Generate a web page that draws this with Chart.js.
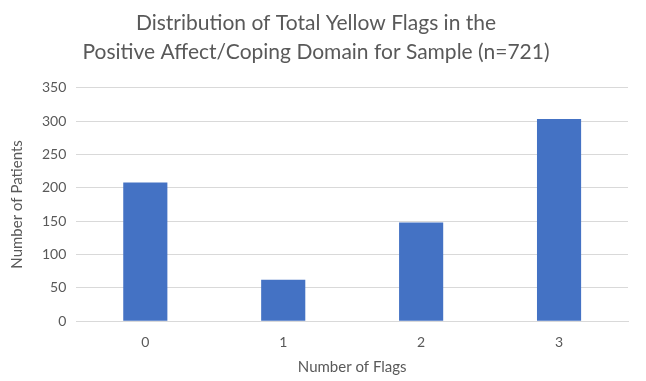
<!DOCTYPE html>
<html>
  <head>
    <meta charset="UTF-8">
    <title>Distribution of Total Yellow Flags</title>
    <script src="https://cdn.jsdelivr.net/npm/chart.js@4"></script>
    <style>
      html, body { margin: 0; padding: 0; background: #fff; }
      #wrap { width: 646px; height: 381px; }
    </style>
  </head>
  <body>
    <div id="wrap"><canvas id="flagsChart"></canvas></div>
    <script>
      const categories = ['0', '1', '2', '3'];
      const patients = [208, 62, 148, 303];
      const yTicks = [0, 50, 100, 150, 200, 250, 300, 350];

      const textGrey = '#595959';
      const fontFamily = 'Lato, "Open Sans", sans-serif';

      const ctx = document.getElementById('flagsChart').getContext('2d');
      new Chart(ctx, {
        type: 'bar',
        data: {
          labels: categories,
          datasets: [{
            label: 'Number of Patients',
            data: patients,
            backgroundColor: '#4472c4',
            borderWidth: 0,
            barPercentage: 0.64,
            categoryPercentage: 0.5
          }]
        },
        options: {
          responsive: true,
          maintainAspectRatio: false,
          animation: false,
          layout: { padding: { left: 4, right: 18, top: 0, bottom: 5 } },
          plugins: {
            legend: { display: false },
            tooltip: { enabled: false },
            title: {
              display: true,
              text: ['Distribution of Total Yellow Flags in the', 'Positive Affect/Coping Domain for Sample (n=721)'],
              color: textGrey,
              font: { family: fontFamily, size: 21, weight: 'normal', lineHeight: 1.42 },
              padding: { top: 8, bottom: 20 }
            }
          },
          scales: {
            x: {
              grid: { display: false },
              border: { color: '#d9d9d9' },
              ticks: { color: textGrey, font: { family: fontFamily, size: 14 }, padding: 5 },
              title: {
                display: true,
                text: 'Number of Flags',
                color: textGrey,
                font: { family: fontFamily, size: 15 },
                padding: { top: 2, bottom: 0 }
              }
            },
            y: {
              min: 0,
              max: 350,
              afterBuildTicks: (axis) => { axis.ticks = yTicks.map(v => ({ value: v })); },
              grid: { color: '#d9d9d9', drawTicks: false },
              border: { display: false },
              ticks: { color: textGrey, font: { family: fontFamily, size: 14 }, padding: 10 },
              title: {
                display: true,
                text: 'Number of Patients',
                color: textGrey,
                font: { family: fontFamily, size: 15 },
                padding: { bottom: 6 }
              }
            }
          }
        }
      });
    </script>
  </body>
</html>
